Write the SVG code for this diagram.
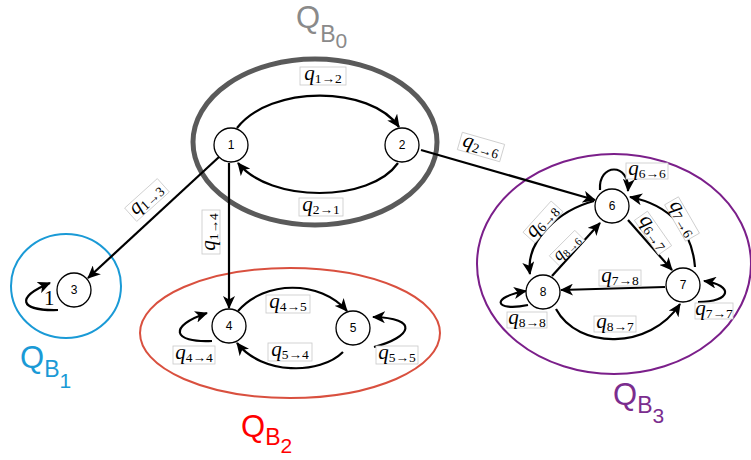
<svg xmlns="http://www.w3.org/2000/svg" width="751" height="460" viewBox="0 0 751 460">
<style>
.n circle{fill:#fff;stroke:#000;stroke-width:1.3}
.n text{font-family:"Liberation Sans",Arial,sans-serif;font-size:12px;text-anchor:middle}
.e path{fill:none;stroke:#000;stroke-width:2.2}
.lb rect{fill:#fff;stroke:#c8c8c8;stroke-width:0.8}
.lb text{font-family:"Liberation Serif","DejaVu Serif",serif;font-size:21px;font-style:italic;text-anchor:middle}
.lb tspan{font-style:normal;font-size:13.5px}
.grp text{font-family:"Liberation Sans",Arial,sans-serif}
</style>
<defs>
<marker id="ah" markerWidth="14" markerHeight="12" refX="12" refY="6" orient="auto" markerUnits="userSpaceOnUse">
<path d="M0,0 L13,6 L0,12 L3.5,6 z" fill="#000"/>
</marker>
</defs>
<rect width="751" height="460" fill="#fff"/>

<g id="groups" class="grp">
<ellipse cx="315" cy="142" rx="122" ry="83" fill="none" stroke="#5a5a5a" stroke-width="5"/>
<ellipse cx="66" cy="286" rx="55" ry="52" fill="none" stroke="#1a9ad6" stroke-width="2"/>
<ellipse cx="290" cy="333" rx="150" ry="65" fill="none" stroke="#d9503f" stroke-width="2"/>
<ellipse cx="614" cy="264" rx="137" ry="110" fill="none" stroke="#7b1f8a" stroke-width="2"/>
<text x="296" y="28" font-size="31" fill="#8a8a8a">Q<tspan font-size="23" dy="14">B</tspan><tspan font-size="21" dy="6">0</tspan></text>
<text x="20" y="368" font-size="31" fill="#1a9ad6">Q<tspan font-size="23" dy="9">B</tspan><tspan font-size="21" dy="11">1</tspan></text>
<text x="241" y="437" font-size="31" fill="#ff0000">Q<tspan font-size="23" dy="8">B</tspan><tspan font-size="21" dy="8">2</tspan></text>
<text x="613" y="405" font-size="31" fill="#7b2d8e">Q<tspan font-size="23" dy="8">B</tspan><tspan font-size="21" dy="10">3</tspan></text>
</g>

<g id="connectors" class="e">
<path d="M237,128 C270,85 370,85 399,127" marker-end="url(#ah)"/>
<path d="M398,163 C370,203 270,203 238,163" marker-end="url(#ah)"/>
<path d="M219,157 L88,278" marker-end="url(#ah)"/>
<path d="M229,163 L229,308" marker-end="url(#ah)"/>
<path d="M421,150 L595,200" marker-end="url(#ah)"/>
<path d="M58,310 C18,311 16,297 50,283" marker-end="url(#ah)"/>
<path d="M238,311 C265,280 320,280 347,311" marker-end="url(#ah)"/>
<path d="M343,352 C320,375 262,375 237,343" marker-end="url(#ah)"/>
<path d="M212,341 C172,343 168,326 207,313" marker-end="url(#ah)"/>
<path d="M374,347 C412,337 420,318 373,317" marker-end="url(#ah)"/>
<path d="M600,190 C598,163 630,162 628,191" marker-end="url(#ah)"/>
<path d="M594,201 C560,210 525,240 530,274" marker-end="url(#ah)"/>
<path d="M552,276 L600,223" marker-end="url(#ah)"/>
<path d="M628,220 L672,270" marker-end="url(#ah)"/>
<path d="M695,267 C692,230 670,205 630,197" marker-end="url(#ah)"/>
<path d="M665,287 L561,290" marker-end="url(#ah)"/>
<path d="M556,309 C578,350 650,350 680,304" marker-end="url(#ah)"/>
<path d="M698,302 C732,302 734,285 704,281" marker-end="url(#ah)"/>
<path d="M528,305 C494,312 490,297 526,291" marker-end="url(#ah)"/>
</g>

<g id="labels">
<g class="lb" transform="translate(323,76)"><rect x="-23" y="-9" width="46" height="18"/><text y="4">q<tspan dy="3">1→2</tspan></text></g>
<g class="lb" transform="translate(321,207)"><rect x="-22" y="-9" width="44" height="18"/><text y="4">q<tspan dy="3">2→1</tspan></text></g>
<g class="lb" transform="translate(147,200) rotate(-42)"><rect x="-22" y="-9" width="44" height="18"/><text y="4">q<tspan dy="3">1→3</tspan></text></g>
<g class="lb" transform="translate(211,232) rotate(-90)"><rect x="-22" y="-9" width="44" height="18"/><text y="4">q<tspan dy="3">1→4</tspan></text></g>
<g class="lb" transform="translate(481,147) rotate(16)"><rect x="-22" y="-9" width="44" height="18"/><text y="4">q<tspan dy="3">2→6</tspan></text></g>
<g class="lb" transform="translate(288,304)"><rect x="-22" y="-9" width="44" height="18"/><text y="4">q<tspan dy="3">4→5</tspan></text></g>
<g class="lb" transform="translate(290,352)"><rect x="-22" y="-9" width="44" height="18"/><text y="4">q<tspan dy="3">5→4</tspan></text></g>
<g class="lb" transform="translate(194,355)"><rect x="-21" y="-9" width="42" height="18"/><text y="4">q<tspan dy="3">4→4</tspan></text></g>
<g class="lb" transform="translate(397,355)"><rect x="-21" y="-9" width="42" height="18"/><text y="4">q<tspan dy="3">5→5</tspan></text></g>
<g class="lb" transform="translate(647,171)"><rect x="-21" y="-8" width="42" height="16"/><text y="4">q<tspan dy="3">6→6</tspan></text></g>
<g class="lb" transform="translate(543,222) rotate(-48)"><rect x="-21" y="-8" width="42" height="16"/><text y="4">q<tspan dy="3">6→8</tspan></text></g>
<g class="lb" transform="translate(567,248) rotate(-45)"><rect x="-18" y="-7" width="36" height="14"/><text y="4" style="font-size:17px">q<tspan dy="3" style="font-size:11px">8→6</tspan></text></g>
<g class="lb" transform="translate(653,233) rotate(55)"><rect x="-21" y="-8" width="42" height="16"/><text y="4">q<tspan dy="3">6→7</tspan></text></g>
<g class="lb" transform="translate(682,219) rotate(60)"><rect x="-21" y="-8" width="42" height="16"/><text y="4">q<tspan dy="3">7→6</tspan></text></g>
<g class="lb" transform="translate(620,278)"><rect x="-21" y="-8" width="42" height="16"/><text y="4">q<tspan dy="3">7→8</tspan></text></g>
<g class="lb" transform="translate(615,324)"><rect x="-21" y="-8" width="42" height="16"/><text y="4">q<tspan dy="3">8→7</tspan></text></g>
<g class="lb" transform="translate(714,311)"><rect x="-19" y="-8" width="38" height="16"/><text y="4">q<tspan dy="3">7→7</tspan></text></g>
<g class="lb" transform="translate(527,320)"><rect x="-20" y="-8" width="40" height="16"/><text y="4">q<tspan dy="3">8→8</tspan></text></g>
<text x="44" y="305" font-family="Liberation Serif, serif" font-size="21">1</text>
</g>

<g id="node1" class="n"><circle cx="231" cy="145" r="17"/><text x="231" y="149">1</text></g>
<g id="node2" class="n"><circle cx="402" cy="145" r="17"/><text x="402" y="149">2</text></g>
<g id="node3" class="n"><circle cx="74" cy="290" r="17"/><text x="74" y="294">3</text></g>
<g id="node4" class="n"><circle cx="229" cy="326" r="17"/><text x="229" y="330">4</text></g>
<g id="node5" class="n"><circle cx="353" cy="328" r="17"/><text x="353" y="332">5</text></g>
<g id="node6" class="n"><circle cx="612" cy="206" r="17"/><text x="612" y="210">6</text></g>
<g id="node7" class="n"><circle cx="683" cy="285" r="17"/><text x="683" y="289">7</text></g>
<g id="node8" class="n"><circle cx="543" cy="292" r="17"/><text x="543" y="296">8</text></g>
</svg>
